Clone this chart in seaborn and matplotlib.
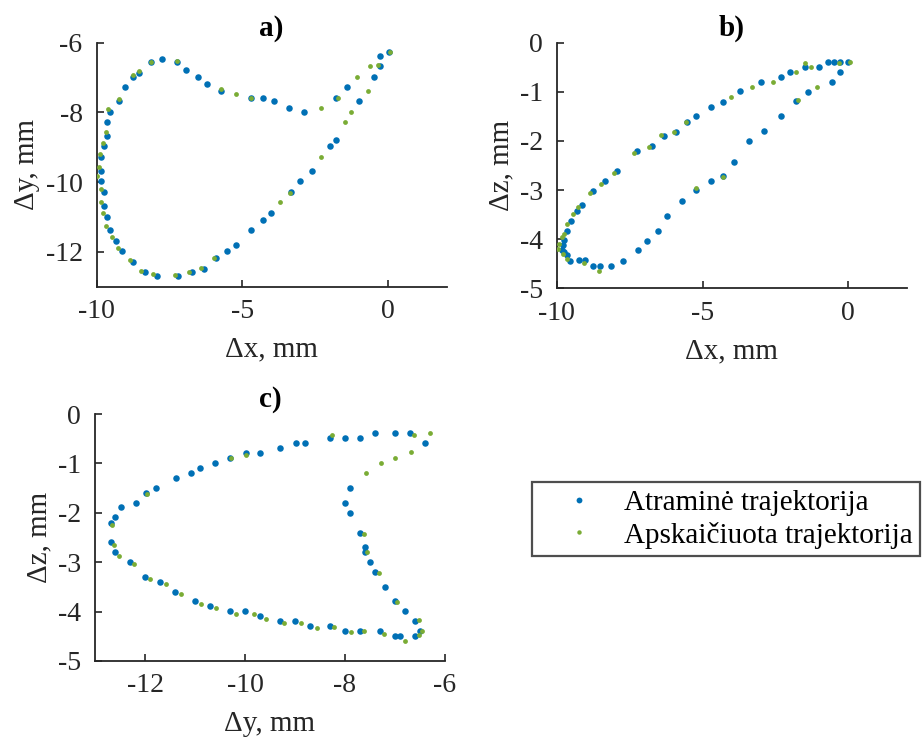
import matplotlib
matplotlib.use("Agg")
import matplotlib.pyplot as plt
from matplotlib.lines import Line2D
import seaborn as sns
import pandas as pd

# ---- trajectory samples (mm) ----
# a) Δx vs Δy
a_ref_x = [0.02, -0.29, -0.29, -0.49, -1.00, -1.40, -1.78, -2.90, -3.40, -3.91, -4.31, -4.72,
           -5.72, -6.21, -6.53, -6.92, -7.24, -7.74, -8.14, -8.54, -8.74, -9.03, -9.24, -9.54,
           -9.63, -9.63, -9.74, -9.83, -9.83, -9.83, -9.74, -9.74, -9.63, -9.54, -9.33, -9.14,
           -8.74, -8.33, -7.93, -7.22, -6.72, -6.32, -5.92, -5.54, -5.23, -4.72, -4.31, -4.02,
           -3.33, -3.01, -2.62, -2.01, -1.78]
a_ref_y = [-6.26, -6.38, -6.68, -6.98, -7.67, -7.27, -7.58, -7.98, -7.88, -7.67, -7.58, -7.58,
           -7.38, -7.18, -6.97, -6.77, -6.56, -6.47, -6.56, -6.87, -6.98, -7.27, -7.67, -7.98,
           -8.28, -8.68, -8.97, -9.27, -9.68, -9.98, -10.28, -10.69, -10.99, -11.38, -11.68, -11.98,
           -12.29, -12.59, -12.69, -12.69, -12.59, -12.48, -12.18, -11.98, -11.79, -11.38, -11.08, -10.89,
           -10.28, -9.98, -9.68, -8.97, -8.78]
a_calc_x = [0.06, -0.34, -0.62, -1.09, -0.69, -1.72, -1.29, -1.49, -2.30, -2.30, -3.72, -3.36,
            -5.23, -5.72, -7.24, -8.13, -8.54, -8.74, -9.24, -9.60, -9.68, -9.79, -9.89, -9.92,
            -9.98, -9.83, -9.86, -9.77, -9.66, -9.46, -9.28, -8.85, -8.47, -8.05, -7.32, -6.82,
            -6.41, -5.98, -4.72]
a_calc_y = [-6.26, -6.63, -6.68, -6.98, -7.39, -7.58, -7.98, -8.28, -7.88, -9.27, -10.58, -10.30,
            -7.48, -7.34, -6.53, -6.56, -6.82, -6.92, -7.62, -7.89, -8.57, -8.87, -9.19, -9.57,
            -9.81, -10.19, -10.57, -10.89, -11.27, -11.58, -11.89, -12.23, -12.54, -12.64, -12.67, -12.59,
            -12.45, -12.18, -7.60]

# b) Δx vs Δz
b_ref_x = [0.00, -0.29, -0.49, -0.69, -1.00, -1.49, -2.01, -2.30, -3.01, -3.70, -4.31, -4.72,
           -5.23, -5.54, -5.92, -6.32, -6.72, -7.24, -7.93, -8.33, -8.74,
           -9.12, -9.31, -9.52, -9.63, -9.75, -9.77, -9.83, -9.75, -9.66, -9.54, -9.22, -9.02,
           -8.74, -8.53, -8.13, -7.72, -7.22, -6.92, -6.53, -6.21,
           -5.72, -5.23, -4.72, -4.31, -3.91, -3.40, -2.90, -2.30, -1.78, -1.40, -0.57, -0.29]
b_ref_z = [-0.39, -0.39, -0.39, -0.39, -0.49, -0.49, -0.59, -0.69, -0.81, -0.99, -1.20, -1.30,
           -1.50, -1.61, -1.81, -1.90, -2.10, -2.20, -2.61, -2.81, -3.01,
           -3.31, -3.43, -3.63, -3.84, -4.01, -4.11, -4.23, -4.27, -4.33, -4.45, -4.43, -4.43,
           -4.54, -4.54, -4.54, -4.45, -4.23, -4.04, -3.84, -3.53,
           -3.22, -3.00, -2.81, -2.71, -2.42, -2.01, -1.80, -1.50, -1.19, -1.00, -0.79, -0.60]
b_calc_x = [0.06, -0.32, -1.29, -1.50, -1.78, -2.60, -3.32, -4.02, -5.57, -5.98, -6.41, -6.84,
            -7.36, -8.05, -8.47, -8.85, -9.28, -9.45, -9.63, -9.75, -9.83, -9.91, -9.94, -9.77,
            -9.66, -9.05, -8.54, -5.23, -4.31, -1.72, -1.09]
b_calc_z = [-0.39, -0.42, -0.49, -0.42, -0.59, -0.80, -0.91, -1.10, -1.61, -1.82, -1.88, -2.12,
            -2.25, -2.65, -2.88, -3.05, -3.35, -3.48, -3.70, -3.89, -3.96, -4.09, -4.20, -4.30,
            -4.40, -4.49, -4.64, -2.96, -2.74, -1.17, -0.90]

# c) Δy vs Δz
c_ref_y = [-7.40, -7.00, -6.70, -6.40, -7.70, -8.00, -8.30, -8.80, -8.98, -9.30, -9.70, -9.99,
           -10.30, -10.60, -10.90, -11.09, -11.39, -11.78, -11.98, -12.19, -12.49, -12.60, -12.69,
           -12.69, -12.60, -12.30, -12.00, -11.70, -11.40, -11.00, -10.70, -10.30, -10.00, -9.70,
           -9.30, -9.00, -8.70, -8.30, -8.00, -7.70, -7.30, -7.00, -6.90, -6.60, -6.50, -6.60,
           -6.80, -7.00, -7.20, -7.40, -7.50, -7.60, -7.60, -7.70, -7.90, -8.00, -7.90]
c_ref_z = [-0.39, -0.39, -0.39, -0.59, -0.49, -0.49, -0.49, -0.59, -0.59, -0.69, -0.79, -0.79,
           -0.90, -1.00, -1.10, -1.20, -1.30, -1.50, -1.60, -1.80, -1.89, -2.09, -2.20,
           -2.60, -2.80, -3.00, -3.30, -3.40, -3.60, -3.79, -3.89, -3.99, -3.99, -4.09,
           -4.20, -4.20, -4.30, -4.30, -4.40, -4.40, -4.40, -4.50, -4.50, -4.50, -4.40, -4.20,
           -3.99, -3.79, -3.50, -3.19, -3.00, -2.80, -2.69, -2.40, -2.01, -1.80, -1.50]
c_calc_y = [-8.27, -6.63, -6.30, -6.68, -7.00, -7.28, -7.58, -9.97, -10.29, -11.97, -12.67, -12.63,
            -12.53, -12.22, -11.90, -11.58, -11.29, -10.89, -10.59, -10.19, -9.82, -9.58, -9.21,
            -8.88, -8.57, -8.23, -7.89, -7.62, -7.23, -6.80, -6.53, -6.47, -6.53, -6.97, -7.33,
            -7.63, -7.57]
c_calc_z = [-0.42, -0.42, -0.39, -0.77, -0.90, -1.00, -1.19, -0.83, -0.90, -1.62, -2.24, -2.65,
            -2.87, -3.04, -3.33, -3.45, -3.65, -3.84, -3.93, -4.04, -4.05, -4.15, -4.23,
            -4.24, -4.34, -4.31, -4.42, -4.40, -4.45, -4.60, -4.47, -4.40, -4.18, -3.80, -3.22,
            -2.42, -2.79]

labels = ["Atraminė trajektorija", "Apskaičiuota trajektorija"]
ref_color = "#0070b5"
calc_color = "#7aac35"

sns.set_theme(style="white")
plt.rcParams["font.family"] = ["Liberation Serif", "DejaVu Serif"]
plt.rcParams["axes.unicode_minus"] = False

fig = plt.figure(figsize=(9.23, 7.40), dpi=100)
W, H = 923, 740


def add_axes(left, right, top, bottom):
    return fig.add_axes([left / W, 1 - bottom / H, (right - left) / W, (bottom - top) / H])


ax_a = add_axes(96.5, 446.7, 42.7, 286.7)
ax_b = add_axes(556.7, 906.7, 42.7, 288.3)
ax_c = add_axes(95.0, 445.0, 414.0, 661.0)

panels = [
    (ax_a, a_ref_x, a_ref_y, a_calc_x, a_calc_y, "a)", "Δx, mm", "Δy, mm",
     (-10, 2), (-13, -6), [-10, -5, 0], [-12, -10, -8, -6]),
    (ax_b, b_ref_x, b_ref_z, b_calc_x, b_calc_z, "b)", "Δx, mm", "Δz, mm",
     (-10, 2), (-5, 0), [-10, -5, 0], [-5, -4, -3, -2, -1, 0]),
    (ax_c, c_ref_y, c_ref_z, c_calc_y, c_calc_z, "c)", "Δy, mm", "Δz, mm",
     (-13, -6), (-5, 0), [-12, -10, -8, -6], [-5, -4, -3, -2, -1, 0]),
]

axis_color = "#262626"
for ax, rx, ry, cx, cy, title, xl, yl, xlim, ylim, xt, yt in panels:
    ref = pd.DataFrame({"h": rx, "v": ry})
    calc = pd.DataFrame({"h": cx, "v": cy})
    sns.scatterplot(data=ref, x="h", y="v", ax=ax, color=ref_color, s=22,
                    linewidth=0, legend=False, zorder=3)
    sns.scatterplot(data=calc, x="h", y="v", ax=ax, color=calc_color, s=12,
                    linewidth=0, legend=False, zorder=4)
    ax.set_xlim(*xlim)
    ax.set_ylim(*ylim)
    ax.set_xticks(xt)
    ax.set_yticks(yt)
    ax.set_xticklabels([str(t) for t in xt])
    ax.set_yticklabels([str(t) for t in yt])
    ax.set_title(title, fontsize=21, fontweight="bold", pad=5, color="black")
    ax.set_xlabel(xl, fontsize=21, labelpad=9, color=axis_color)
    ax.set_ylabel(yl, fontsize=21, labelpad=4, color=axis_color)
    for side in ("top", "right"):
        ax.spines[side].set_visible(False)
    for side in ("left", "bottom"):
        ax.spines[side].set_color(axis_color)
        ax.spines[side].set_linewidth(1.3)
    ax.tick_params(axis="both", which="major", bottom=True, left=True, top=False, right=False,
                   direction="in", length=5, width=1.2,
                   colors=axis_color, labelsize=20, labelcolor=axis_color)
    ax.tick_params(axis="x", pad=9)
    ax.tick_params(axis="y", pad=10)
    ax.set_facecolor("white")

handles = [
    Line2D([], [], linestyle="none", marker="o", markersize=4.2,
           markerfacecolor=ref_color, markeredgewidth=0),
    Line2D([], [], linestyle="none", marker="o", markersize=3.2,
           markerfacecolor=calc_color, markeredgewidth=0),
]
leg = fig.legend(handles, labels, loc="upper left",
                 bbox_to_anchor=(532 / W, 1 - 482 / H), bbox_transform=fig.transFigure,
                 borderaxespad=0, fontsize=21, frameon=True, fancybox=False,
                 borderpad=0.25, labelspacing=0.2, handlelength=2.7, handletextpad=0.2)
leg.get_frame().set_edgecolor("#222222")
leg.get_frame().set_linewidth(1.6)
for t in leg.get_texts():
    t.set_color("black")

fig.savefig("out.png", dpi=100, facecolor="white")
